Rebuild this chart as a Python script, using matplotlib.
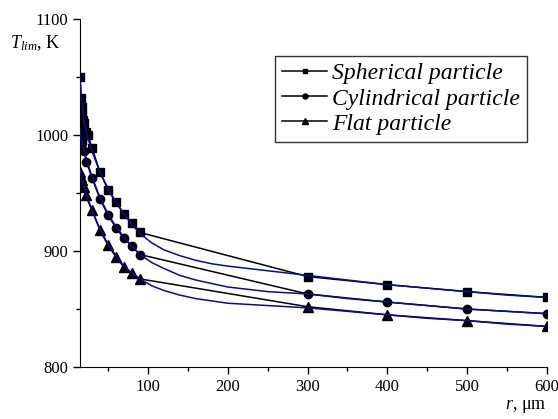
import matplotlib
matplotlib.use("Agg")
import matplotlib.pyplot as plt

plt.rcParams['font.family'] = ['Liberation Serif', 'DejaVu Serif']
plt.rcParams['mathtext.fontset'] = 'custom'
plt.rcParams['mathtext.rm'] = 'Liberation Serif'
plt.rcParams['mathtext.it'] = 'Liberation Serif:italic'

# radio de particula (um) y temperatura limite (K)
r_esf = [15, 16, 17, 18, 19, 20, 22, 25, 30, 40, 50, 60, 70, 80, 90, 300, 400, 500, 600]
t_esf = [1050, 1032, 1024, 1017, 1013, 1010, 1003, 1000, 989, 968, 953, 942, 932, 924, 916,
         878, 871, 865, 860]

r_cil = [15, 16, 17, 18, 20, 23, 30, 40, 50, 60, 70, 80, 90, 300, 400, 500, 600]
t_cil = [1008, 1000, 996, 993, 986, 977, 963, 945, 931, 920, 911, 904, 897,
         863, 856, 850, 846]

r_pla = [15, 16, 17, 18, 20, 22, 30, 40, 50, 60, 70, 80, 90, 300, 400, 500, 600]
t_pla = [968, 964, 961, 958, 955, 948, 935, 918, 905, 895, 886, 881, 876,
         852, 845, 840, 835]

# curvas de ajuste (azules)
r_ajuste = [15, 17, 20, 25, 30, 40, 50, 60, 70, 80, 90, 105, 120, 140, 160, 180, 200,
            225, 250, 275, 300, 350, 400, 450, 500, 550, 600]
t_ajuste_esf = [1050, 1030, 1012, 997, 986, 968, 954, 942, 932, 923, 915, 907, 901, 896,
                892, 889, 887, 885, 883, 881, 879, 875, 871, 868, 865, 862, 860]
t_ajuste_cil = [1005, 995, 986, 975, 964, 946, 932, 921, 912, 904, 897, 890, 885, 879,
                875, 872, 869, 867, 865, 864, 863, 859, 856, 853, 850, 848, 846]
t_ajuste_pla = [970, 962, 955, 945, 935, 919, 906, 896, 887, 881, 876, 870, 866, 862,
                859, 857, 855, 854, 853, 852, 851, 848, 845, 842, 840, 837, 835]

fig = plt.figure(figsize=(5.58, 4.19), dpi=100)
ax = fig.add_axes([0.1434, 0.124, 0.837, 0.8307])

ax.plot(r_esf, t_esf, color='black', lw=1.1, marker='s', ms=5.5, label='Spherical particle', zorder=2)
ax.plot(r_cil, t_cil, color='black', lw=1.1, marker='o', ms=6, label='Cylindrical particle', zorder=2)
ax.plot(r_pla, t_pla, color='black', lw=1.1, marker='^', ms=6.5, label='Flat particle', zorder=2)

for t_aj in (t_ajuste_esf, t_ajuste_cil, t_ajuste_pla):
    ax.plot(r_ajuste, t_aj, color='#0a0aa0', lw=1.1, zorder=3)

ax.set_xlim(15, 600)
ax.set_ylim(800, 1100)
ax.set_xticks([100, 200, 300, 400, 500, 600])
ax.set_xticks(range(50, 601, 100), minor=True)
ax.set_yticks([800, 900, 1000, 1100])
ax.set_yticks([850, 950, 1050], minor=True)
ax.tick_params(direction='out', labelsize=12, length=5, width=1)
ax.tick_params(which='minor', direction='out', length=3, width=1)
ax.spines['top'].set_visible(False)
ax.spines['right'].set_visible(False)

fig.text(0.018, 0.885, r'$T_{lim}$, K', fontsize=13)
fig.text(0.905, 0.025, r'$r$, $\mathrm{\mu}$m', fontsize=13)

leg = ax.legend(loc='upper left', bbox_to_anchor=(0.418, 0.894), frameon=True, fancybox=False,
                edgecolor='black', prop={'style': 'italic', 'size': 17}, handlelength=1.9,
                handletextpad=0.2, labelspacing=0.15, borderpad=0.3, borderaxespad=0,
                markerscale=0.6)
leg.get_frame().set_linewidth(1)

fig.savefig('out.png', dpi=100)
